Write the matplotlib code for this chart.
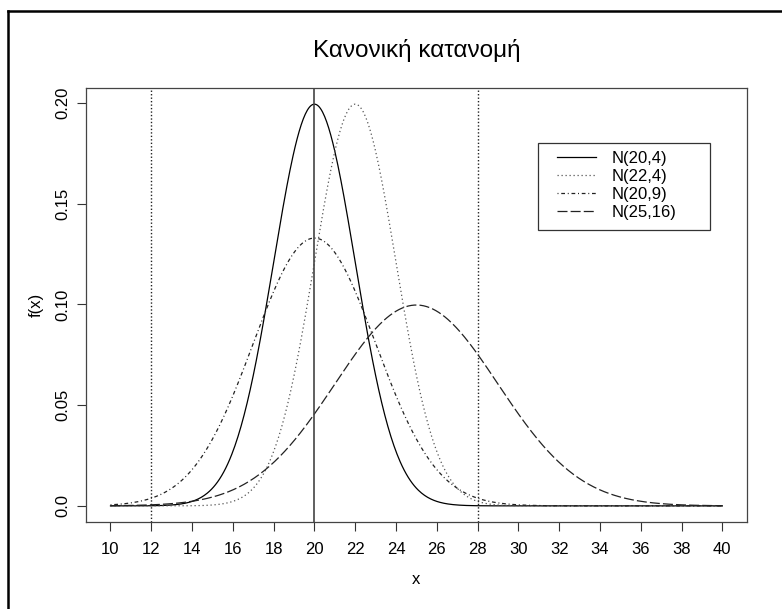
import numpy as np
import matplotlib.pyplot as plt
from matplotlib.lines import Line2D
from matplotlib.patches import Rectangle

plt.rcParams['font.family'] = ['Liberation Sans', 'DejaVu Sans']

# normal distributions N(mean, variance)
means = [20, 22, 20, 25]
variances = [4, 4, 9, 16]
labels = ['N(20,4)', 'N(22,4)', 'N(20,9)', 'N(25,16)']
dash_styles = [None, (1, 2.2), (0.8, 2.2, 3, 2.2), (8, 2.5)]
line_colors = ['black', '#555555', '#222222', '#222222']
vlines = [12, 20, 28]
vline_styles = [(0, (1, 1.5)), '-', (0, (1, 1.5))]
x_ticks = list(range(10, 41, 2))
y_ticks = [0.0, 0.05, 0.10, 0.15, 0.20]
y_tick_labels = ['0.0', '0.05', '0.10', '0.15', '0.20']

W, H = 782, 609
x = np.linspace(10, 40, 601)

fig = plt.figure(figsize=(W / 100, H / 100), dpi=100)
ax = fig.add_axes([0.110, 0.1429, 0.845, 0.7126])

handles = []
for m, v, lab, d, c in zip(means, variances, labels, dash_styles, line_colors):
    sd = np.sqrt(v)
    y = np.exp(-(x - m) ** 2 / (2 * v)) / (sd * np.sqrt(2 * np.pi))
    ln, = ax.plot(x, y, color=c, lw=0.9, label=lab)
    if d is not None:
        ln.set_dashes(d)
    handles.append(ln)

for xv, ls in zip(vlines, vline_styles):
    ax.axvline(xv, color='#222222' if ls != '-' else '#444444',
               lw=1.0 if ls != '-' else 1.2, linestyle=ls)

ax.set_xlim(8.8, 41.2)
ax.set_ylim(-0.008, 0.2075)
ax.set_xticks(x_ticks)
ax.set_yticks(y_ticks)
ax.set_yticklabels(y_tick_labels, rotation=90, va='center')
ax.tick_params(length=6.5, width=0.8, labelsize=12, pad=8, color='#333333')
ax.tick_params(axis='y', pad=5)
for s in ax.spines.values():
    s.set_color('#444444')
    s.set_linewidth(0.9)

ax.set_xlabel('x', fontsize=12, labelpad=11)
ax.set_ylabel('f(x)', fontsize=12, labelpad=8)
ax.set_title('Κανονική κατανομή', fontsize=17.5, pad=22)

# legend entries without frame, box drawn separately
leg = ax.legend(handles=handles, loc='upper left',
                bbox_to_anchor=(557 / W, 1 - 151 / H),
                bbox_transform=fig.transFigure, fontsize=12,
                frameon=False, handlelength=2.35,
                handletextpad=0.95, labelspacing=0.18,
                borderpad=0, borderaxespad=0)
fig.add_artist(Rectangle((538 / W, 1 - 230 / H), 172 / W, 87 / H,
                         transform=fig.transFigure, fill=False,
                         edgecolor='#333333', lw=0.9))

# frame around the figure (left and top edges)
fx = 8 / W
fy = 1 - 11 / H
fig.add_artist(Line2D([fx, fx], [0, fy], transform=fig.transFigure,
                      color='black', lw=1.8))
fig.add_artist(Line2D([fx, 1], [fy, fy], transform=fig.transFigure,
                      color='black', lw=1.8))

fig.savefig('out.png', dpi=100)
